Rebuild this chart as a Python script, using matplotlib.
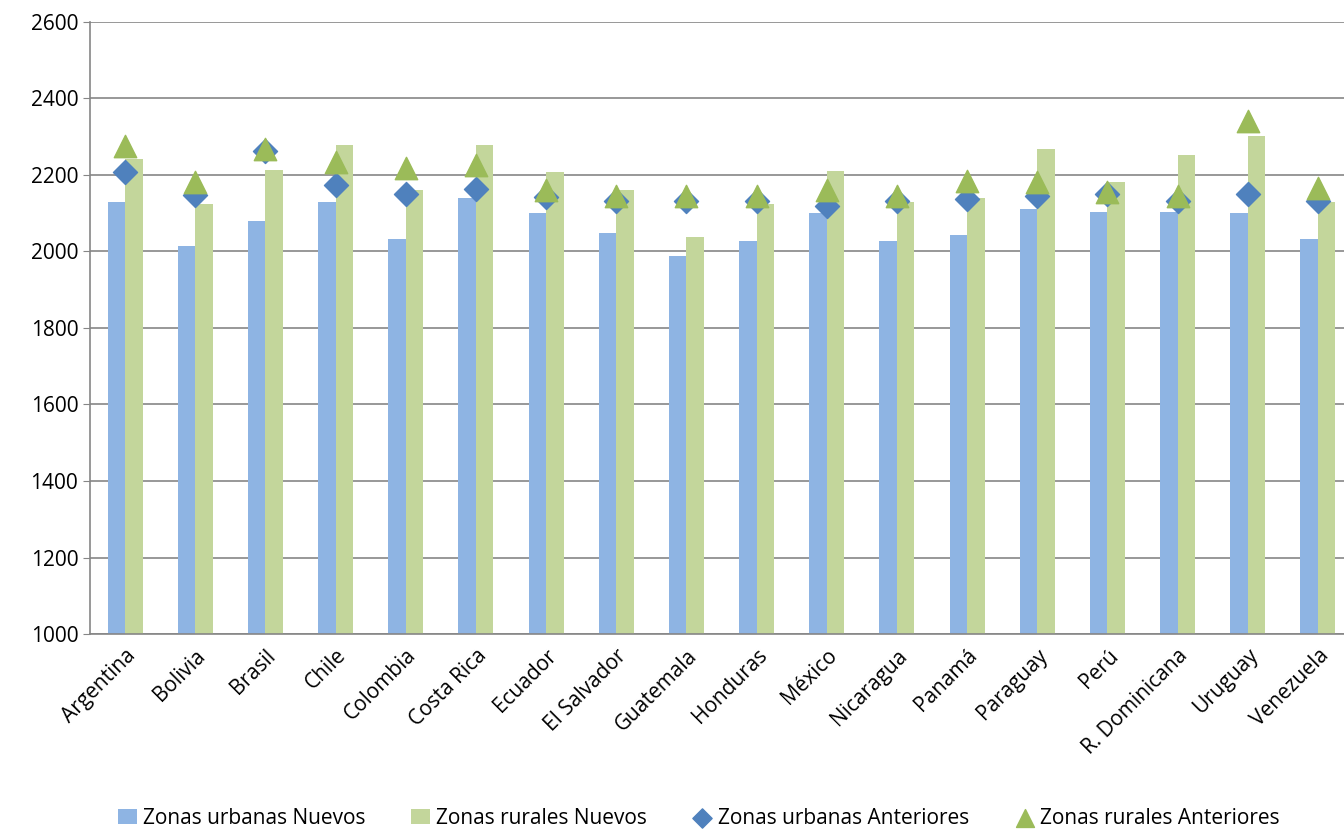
import matplotlib.pyplot as plt
import numpy as np

plt.rcParams['font.family'] = ['Open Sans', 'DejaVu Sans']

paises = ["Argentina", "Bolivia", "Brasil", "Chile", "Colombia", "Costa Rica", "Ecuador",
          "El Salvador", "Guatemala", "Honduras", "México", "Nicaragua", "Panamá",
          "Paraguay", "Perú", "R. Dominicana", "Uruguay", "Venezuela"]
urb_nuevos = [2130, 2014, 2079, 2130, 2033, 2140, 2100, 2048, 1988, 2028, 2100, 2028, 2043, 2110, 2104, 2104, 2100, 2033]
rur_nuevos = [2242, 2125, 2212, 2279, 2161, 2279, 2207, 2161, 2038, 2125, 2211, 2130, 2140, 2268, 2181, 2253, 2303, 2130]
urb_anteriores = [2209, 2148, 2263, 2174, 2150, 2164, 2142, 2133, 2131, 2132, 2120, 2131, 2136, 2145, 2151, 2131, 2151, 2133]
rur_anteriores = [2275, 2183, 2269, 2233, 2217, 2226, 2161, 2146, 2146, 2146, 2162, 2146, 2184, 2183, 2155, 2146, 2341, 2165]

fig = plt.figure(figsize=(13.44, 8.35), dpi=100)
ax = fig.add_axes([90 / 1344, 1 - 634 / 835, 1263 / 1344, 612 / 835])

x = np.arange(len(paises))
w = 0.25
b1 = ax.bar(x - w / 2, urb_nuevos, w, color="#8eb4e3", label="Zonas urbanas Nuevos", zorder=2)
b2 = ax.bar(x + w / 2, rur_nuevos, w, color="#c3d69b", label="Zonas rurales Nuevos", zorder=2)
s1 = ax.scatter(x, urb_anteriores, marker="D", s=150, color="#4f81bd", label="Zonas urbanas Anteriores", zorder=3)
s2 = ax.scatter(x, rur_anteriores, marker="^", s=260, color="#9bbb59", label="Zonas rurales Anteriores", zorder=4)

ax.set_ylim(1000, 2600)
ax.set_yticks(range(1000, 2601, 200))
ax.set_xlim(-0.5, len(paises) - 0.5)
ax.set_xticks(x)
ax.set_xticklabels(paises, rotation=45, ha="right", rotation_mode="anchor")
ax.tick_params(axis="x", length=0, labelsize=15, pad=8)
ax.tick_params(axis="y", labelsize=15, color="#868686", length=5)
ax.yaxis.grid(True, color="#868686", linewidth=1.2, zorder=0)
ax.set_axisbelow(True)
for s in ["top", "right"]:
    ax.spines[s].set_visible(False)
for s in ["left", "bottom"]:
    ax.spines[s].set_color("#868686")
    ax.spines[s].set_linewidth(1.2)

fig.legend(handles=[b1, b2, s1, s2], loc="lower center", bbox_to_anchor=(0.52, -0.015), ncol=4,
           frameon=False, fontsize=15, handlelength=0.9, handletextpad=0.3, columnspacing=2.2,
           markerscale=0.8)

fig.savefig("out.png", dpi=100)
